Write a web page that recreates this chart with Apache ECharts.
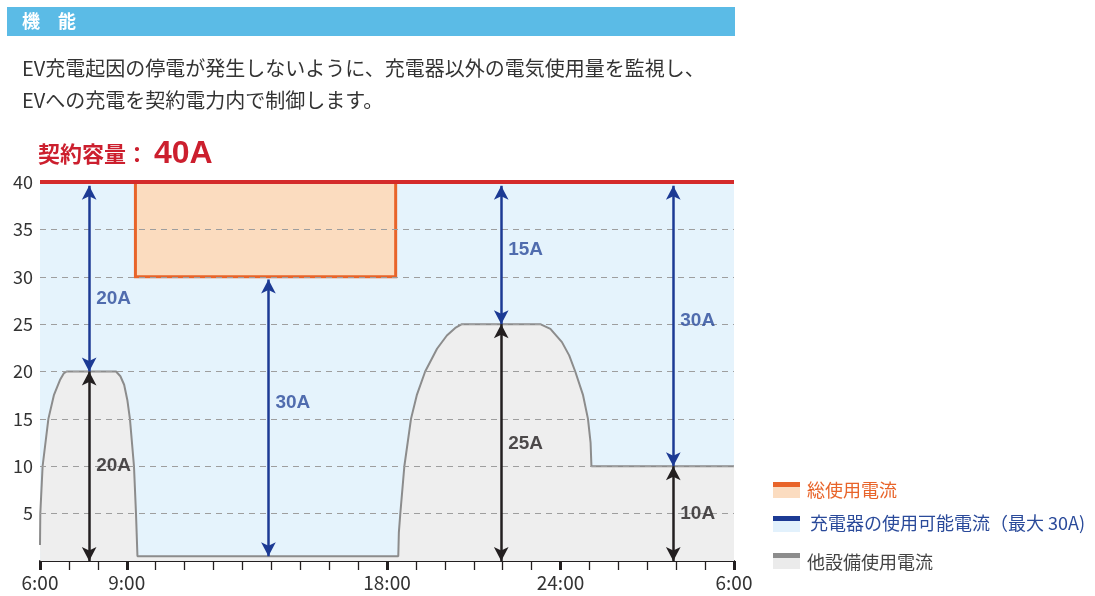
<!DOCTYPE html>
<html>
<head>
<meta charset="utf-8">
<script src="https://cdn.jsdelivr.net/npm/echarts@6/dist/echarts.min.js"></script>
<style>
html,body{margin:0;padding:0;background:#fff;}
#c{width:1095px;height:596px;}
</style>
</head>
<body>
<div id="c"></div>
<script>
// ---- data ----
const hours = [0, 0.01, 0.09, 0.29, 0.48, 0.69, 0.82, 0.92, 2.63, 2.78, 2.91, 3.02, 3.11, 3.25, 3.32, 3.37,
  12.39, 12.41, 12.46, 12.6, 12.83, 13.03, 13.32, 13.73, 14.07, 14.36, 14.59,
  17.3, 17.65, 18.05, 18.3, 18.51, 18.78, 18.95, 19.04, 19.07, 24];
const otherUsage = [1.7, 5, 10, 15, 17.5, 19.1, 19.8, 20, 20, 19.5, 18.6, 17, 15, 10, 5, 0.5,
  0.5, 3, 5, 10, 15, 17.5, 20, 22.4, 23.8, 24.6, 25,
  25, 24.5, 23.1, 21.7, 20, 17.5, 15, 12.5, 10, 10];
const contractAmp = 40;
const chargeBlockHours = [3.3, 12.3];
const chargeBlockAmps = [30, 40];
const blueArrowX = [1.7, 7.9, 15.95, 21.9];
const blueArrowFrom = [20, 0.5, 25, 10];
const blueArrowTo = [39.6, 29.7, 39.6, 39.6];
const blueLabelY = [27.7, 16.7, 32.8, 25.4];
const blueLabels = ['20A', '30A', '15A', '30A'];
const blackArrowX = [1.7, 15.95, 21.9];
const blackArrowFrom = [0, 0, 0];
const blackArrowTo = [20, 25, 10];
const blackLabelY = [10, 12.4, 5];
const blackLabels = ['20A', '25A', '10A'];
const yTicks = [5, 10, 15, 20, 25, 30, 35, 40];
const xTickHours = [0, 3, 12, 18, 24];
const xTickLabels = ['6:00', '9:00', '18:00', '24:00', '6:00'];
const seriesNames = ['総使用電流', '充電器の使用可能電流（最大 30A)', '他設備使用電流'];

// ---- styles ----
const FONT = '"Noto Sans CJK JP", "Noto Sans", sans-serif';
const LATIN_BOLD = '"Liberation Sans", Arial, sans-serif';
const BLUE = '#1c3a94', BLACK = '#231f20', ORANGE = '#e8642a', RED = '#d42b2b';

const chart = echarts.init(document.getElementById('c'));
const pairs = hours.map((h, i) => [h, otherUsage[i]]);
const xLabelMap = {};
xTickHours.forEach((h, i) => xLabelMap[h] = xTickLabels[i]);

function arrowLines(xs, from, to) {
  return xs.map((x, i) => [{coord: [x, from[i]]}, {coord: [x, to[i]]}]);
}
function labelPoints(xs, ys, texts) {
  return xs.map((x, i) => ({value: [x, ys[i]], name: texts[i]}));
}

const option = {
  animation: false,
  textStyle: {fontFamily: FONT},
  grid: {left: 40, right: 361, top: 182, bottom: 35, show: true, backgroundColor: '#e5f3fc', borderWidth: 0},
  xAxis: [{
    type: 'value', min: 0, max: 24, interval: 1,
    axisLine: {show: true, lineStyle: {color: '#231f20', width: 2}},
    axisTick: {show: true, length: 9, lineStyle: {color: '#231f20', width: 1.3}},
    axisLabel: {show: false},
    splitLine: {show: false}
  }, {
    type: 'value', min: 0, max: 24, position: 'bottom',
    axisLine: {show: false},
    axisTick: {show: true, customValues: xTickHours, length: 9, lineStyle: {color: '#231f20', width: 3}},
    axisLabel: {show: true, customValues: xTickHours, margin: 12, fontSize: 19, color: '#333', fontFamily: FONT,
      formatter: v => xLabelMap[v] || ''},
    splitLine: {show: false}
  }],
  yAxis: {
    type: 'value', min: 0, max: 40, interval: 5,
    axisLine: {show: false}, axisTick: {show: false},
    axisLabel: {margin: 7, fontSize: 18, color: '#333', fontFamily: FONT, formatter: v => v === 0 ? '' : String(v)},
    splitLine: {show: false}
  },
  graphic: [
    {type: 'rect', shape: {x: 7, y: 7, width: 728, height: 29}, style: {fill: '#5bbbe6'}},
    {type: 'text', x: 22, y: 21, style: {text: '機　能', fill: '#fff', font: 'bold 18px ' + FONT, textVerticalAlign: 'middle'}},
    {type: 'text', x: 22, y: 68, style: {text: 'EV充電起因の停電が発生しないように、充電器以外の電気使用量を監視し、', fill: '#333', font: '20px ' + FONT, textVerticalAlign: 'middle'}},
    {type: 'text', x: 22, y: 100, style: {text: 'EVへの充電を契約電力内で制御します。', fill: '#333', font: '20px ' + FONT, textVerticalAlign: 'middle'}},
    {type: 'text', x: 38, y: 154, style: {
      text: '{a|契約容量：}{b|40A}', textVerticalAlign: 'middle',
      rich: {a: {fill: '#cc1f2e', fontSize: 22, fontWeight: 'bold', fontFamily: FONT},
             b: {fill: '#cc1f2e', fontSize: 32, fontWeight: 'bold', fontFamily: LATIN_BOLD, padding: [0, 0, 0, 6]}}
    }},
    // legend
    {type: 'rect', shape: {x: 773, y: 482, width: 27, height: 5}, style: {fill: ORANGE}},
    {type: 'rect', shape: {x: 773, y: 487, width: 27, height: 11}, style: {fill: '#fbdcc0'}},
    {type: 'text', x: 807, y: 490, style: {text: seriesNames[0], fill: ORANGE, font: '18px ' + FONT, textVerticalAlign: 'middle'}},
    {type: 'rect', shape: {x: 773, y: 516, width: 27, height: 5}, style: {fill: BLUE}},
    {type: 'rect', shape: {x: 773, y: 521, width: 27, height: 11}, style: {fill: '#e2f1fc'}},
    {type: 'text', x: 810, y: 523, style: {text: seriesNames[1], fill: '#2a4a9a', font: '18px ' + FONT, textVerticalAlign: 'middle'}},
    {type: 'rect', shape: {x: 773, y: 553, width: 27, height: 5}, style: {fill: '#8c8c8c'}},
    {type: 'rect', shape: {x: 773, y: 558, width: 27, height: 11}, style: {fill: '#ebebeb'}},
    {type: 'text', x: 807, y: 562, style: {text: seriesNames[2], fill: '#444', font: '18px ' + FONT, textVerticalAlign: 'middle'}}
  ],
  series: [
    {
      name: seriesNames[2], type: 'line', z: 2, symbol: 'none', data: pairs,
      lineStyle: {color: '#8c8c8c', width: 2},
      areaStyle: {color: '#eeeeee', opacity: 1}
    },
    {
      name: seriesNames[0], type: 'line', z: 3, symbol: 'none', data: [],
      markArea: {silent: true, itemStyle: {color: '#fbdcbf', borderColor: ORANGE, borderWidth: 3},
        data: [[{coord: [chargeBlockHours[0], chargeBlockAmps[0]]}, {coord: [chargeBlockHours[1], chargeBlockAmps[1]]}]]}
    },
    {
      name: 'grid', type: 'line', z: 4, symbol: 'none', data: [],
      markLine: {silent: true, symbol: 'none', label: {show: false},
        lineStyle: {color: '#9e9e9e', width: 1.2, type: [6, 5]},
        data: yTicks.filter(v => v < contractAmp).map(v => ({yAxis: v}))}
    },
    {
      name: 'contract', type: 'line', z: 6, symbol: 'none',
      data: [[0, contractAmp], [24, contractAmp]],
      lineStyle: {color: RED, width: 4}
    },
    {
      name: seriesNames[1], type: 'line', z: 7, symbol: 'none', data: [],
      markLine: {silent: true, symbol: ['arrow', 'arrow'], symbolSize: [11, 14], label: {show: false},
        lineStyle: {color: BLUE, width: 2.5, type: 'solid'},
        data: arrowLines(blueArrowX, blueArrowFrom, blueArrowTo)}
    },
    {
      name: 'other-arrows', type: 'line', z: 7, symbol: 'none', data: [],
      markLine: {silent: true, symbol: ['arrow', 'arrow'], symbolSize: [11, 14], label: {show: false},
        lineStyle: {color: BLACK, width: 2.5, type: 'solid'},
        data: arrowLines(blackArrowX, blackArrowFrom, blackArrowTo)}
    },
    {
      name: 'blue-labels', type: 'scatter', z: 8, symbolSize: 0, silent: true,
      data: labelPoints(blueArrowX, blueLabelY, blueLabels),
      label: {show: true, position: 'right', distance: 7, formatter: p => p.name,
        color: '#2a4a9a', fontSize: 19, fontWeight: 'bold', fontFamily: LATIN_BOLD}
    },
    {
      name: 'black-labels', type: 'scatter', z: 8, symbolSize: 0, silent: true,
      data: labelPoints(blackArrowX, blackLabelY, blackLabels),
      label: {show: true, position: 'right', distance: 7, formatter: p => p.name,
        color: BLACK, fontSize: 19, fontWeight: 'bold', fontFamily: LATIN_BOLD}
    }
  ]
};
chart.setOption(option);
</script>
</body>
</html>
